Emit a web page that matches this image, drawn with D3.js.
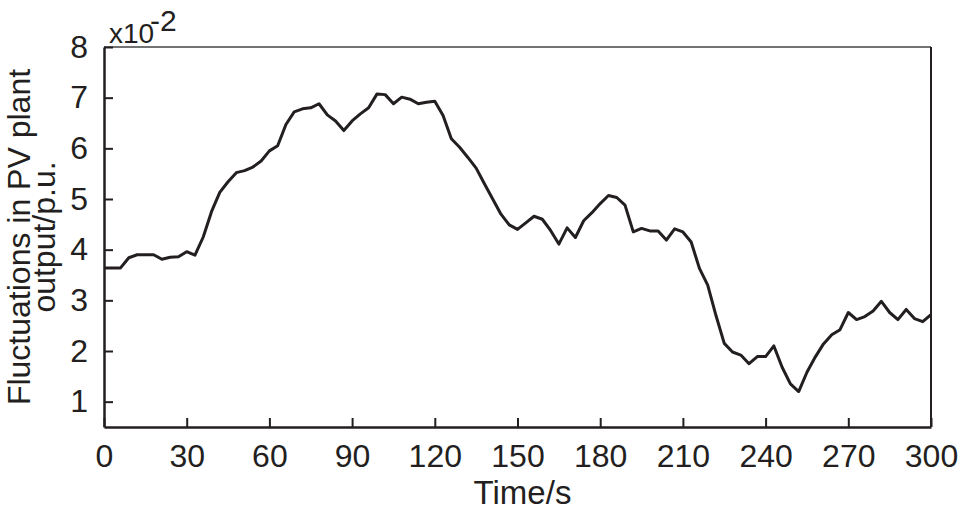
<!DOCTYPE html>
<html>
<head>
<meta charset="utf-8">
<script src="https://cdn.jsdelivr.net/npm/d3@7"></script>
<style>
  body { margin: 0; background: #fff; }
  svg text { font-family: "Liberation Sans", Arial, sans-serif; fill: #231f20; }
</style>
</head>
<body>
<div id="chart"></div>
<script>
// chart size
const width = 962;
const height = 517;

// time axis (s), one sample every 3 s
var times = d3.range(0, 301, 3);
// fluctuation values (x10^-2 p.u.)
var fluct = [
  3.64, 3.64, 3.64, 3.84, 3.90, 3.90, 3.90, 3.81, 3.85, 3.86,
  3.96, 3.89, 4.25, 4.75, 5.13, 5.34, 5.52, 5.56, 5.63, 5.75,
  5.95, 6.05, 6.47, 6.72, 6.78, 6.80, 6.88, 6.66, 6.54, 6.35,
  6.54, 6.68, 6.80, 7.07, 7.06, 6.88, 7.01, 6.97, 6.88, 6.91,
  6.93, 6.65, 6.19, 6.02, 5.82, 5.61, 5.30, 5.00, 4.70, 4.49,
  4.40, 4.53, 4.66, 4.60, 4.38, 4.11, 4.43, 4.24, 4.57, 4.73,
  4.91, 5.07, 5.03, 4.88, 4.35, 4.42, 4.37, 4.37, 4.19, 4.41,
  4.35, 4.15, 3.63, 3.30, 2.70, 2.15, 1.98, 1.92, 1.75, 1.89,
  1.89, 2.10, 1.68, 1.35, 1.20, 1.58, 1.88, 2.14, 2.32, 2.42,
  2.76, 2.62, 2.68, 2.79, 2.98, 2.76, 2.62, 2.82, 2.64, 2.58,
  2.72
];
// tick labels
var xTicks = [0, 30, 60, 90, 120, 150, 180, 210, 240, 270, 300];
var yTicks = [1, 2, 3, 4, 5, 6, 7, 8];

var mLeft = 104, mRight = 931, mTop = 47, mBottom = 427;
var ink = '#231f20';

var svg = d3.select('#chart')
  .append('svg')
  .attr('width', width)
  .attr('height', height);

var x = d3.scaleLinear().domain([0, 300]).range([mLeft, mRight]);
var y = d3.scaleLinear().domain([0.5, 8]).range([mBottom, mTop]);

// box (top and right plain lines)
svg.append('line')
  .attr('x1', mLeft).attr('x2', mRight).attr('y1', mTop).attr('y2', mTop)
  .style('stroke', '#444').style('stroke-width', 1.6);
svg.append('line')
  .attr('x1', mRight).attr('x2', mRight).attr('y1', mTop).attr('y2', mBottom)
  .style('stroke', ink).style('stroke-width', 2);

// x axis
var gx = svg.append('g')
  .attr('transform', 'translate(0,' + mBottom + ')')
  .call(d3.axisBottom(x).tickValues(xTicks).tickSizeInner(-9).tickSizeOuter(0).tickPadding(17));

// y axis
var gy = svg.append('g')
  .attr('transform', 'translate(' + mLeft + ',0)')
  .call(d3.axisLeft(y).tickValues(yTicks).tickSizeInner(-9).tickSizeOuter(0).tickPadding(16));

[gx, gy].forEach(function(g) {
  g.select('.domain').style('stroke', ink).style('stroke-width', 2.5);
  g.selectAll('.tick line').style('stroke', ink).style('stroke-width', 2);
  g.selectAll('.tick text')
    .style('font-size', '32px')
    .style('font-family', '"Liberation Sans", Arial, sans-serif')
    .style('fill', ink);
});

// the line
var line = d3.line()
  .x(function(d, i) { return x(times[i]); })
  .y(function(d) { return y(d); });

svg.append('path')
  .datum(fluct)
  .attr('d', line)
  .style('fill', 'none')
  .style('stroke', ink)
  .style('stroke-width', 3)
  .style('stroke-linejoin', 'round');

// exponent label
svg.append('text')
  .attr('x', 109).attr('y', 43)
  .style('font-size', '28px')
  .text('x10');
svg.append('text')
  .attr('x', 150).attr('y', 31)
  .style('font-size', '30px')
  .text('-2');

// x title
svg.append('text')
  .attr('x', (mLeft + mRight) / 2 + 5).attr('y', 504)
  .style('font-size', '33px')
  .style('text-anchor', 'middle')
  .text('Time/s');

// y title, two lines
var cy = (mTop + mBottom) / 2;
svg.append('text')
  .attr('transform', 'translate(30,' + cy + ') rotate(-90)')
  .style('font-size', '32px')
  .style('text-anchor', 'middle')
  .text('Fluctuations in PV plant');
svg.append('text')
  .attr('transform', 'translate(55,' + cy + ') rotate(-90)')
  .style('font-size', '32px')
  .style('text-anchor', 'middle')
  .text('output/p.u.');
</script>
</body>
</html>
